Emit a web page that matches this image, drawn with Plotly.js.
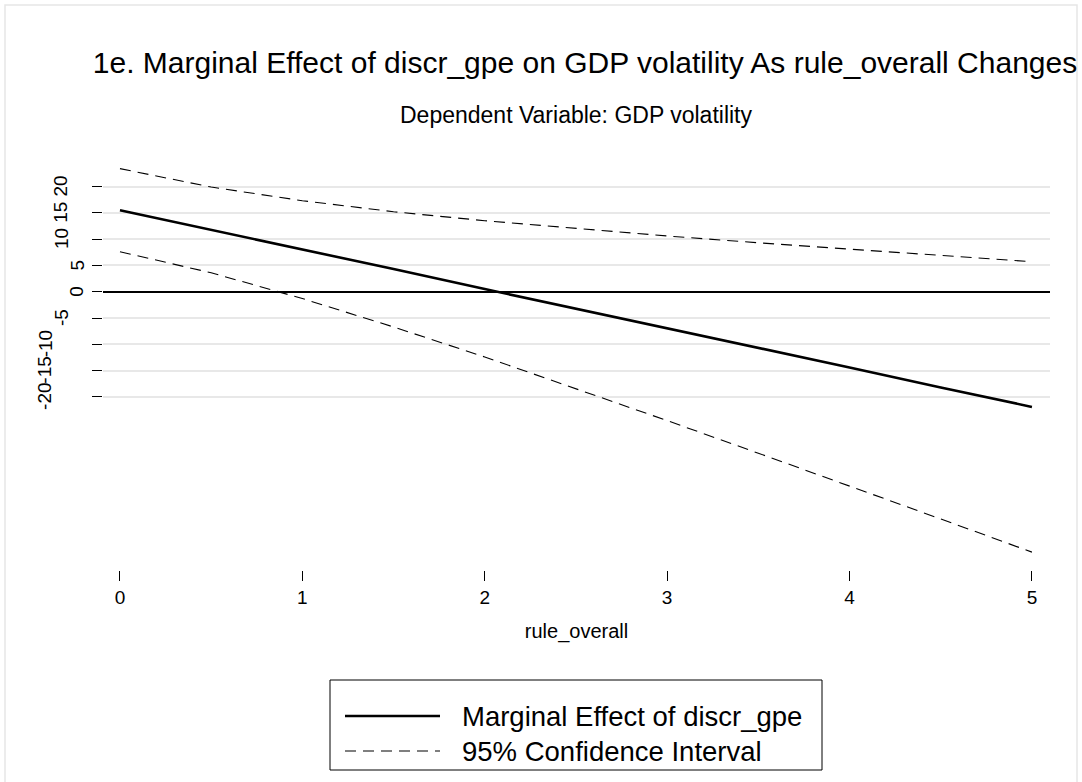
<!DOCTYPE html>
<html>
<head>
<meta charset="utf-8">
<script src="https://cdn.plot.ly/plotly-3.0.1.min.js"></script>
<style>
  html, body { margin: 0; padding: 0; background: #ffffff; }
  #chart { width: 1082px; height: 782px; }
</style>
</head>
<body>
<div id="chart"></div>
<script>
// Data
const ruleOverall = [0, 0.5, 1, 1.5, 2, 2.5, 3, 3.5, 4, 4.5, 5];
const marginalEffect = [15.5, 11.8, 8.0, 4.3, 0.5, -3.2, -6.9, -10.7, -14.4, -18.2, -21.9];
const upperCI = [23.4, 19.9, 17.3, 15.2, 13.5, 12.0, 10.6, 9.3, 8.1, 6.9, 5.7];
const lowerCI = [7.6, 3.6, -1.3, -6.7, -12.4, -18.4, -24.5, -30.7, -36.9, -43.2, -49.5];
const xTicks = [0, 1, 2, 3, 4, 5];
const yTicks = [-20, -15, -10, -5, 0, 5, 10, 15, 20];
const seriesNames = ['Marginal Effect of discr_gpe', '95% Confidence Interval'];

const FONT = '"Liberation Sans", Arial, Helvetica, sans-serif';

// plot-area geometry in pixels (used only to place layout items)
const PL = 103, PR = 1050, PT = 160, PB = 570;
const px2x = p => (p - PL) / (PR - PL);
const px2y = p => (PB - p) / (PB - PT);

const solidLine = { color: '#000000', width: 2.6 };
const dashLine = { color: '#000000', width: 1.1, dash: '11px,7px' };

const traces = [
  { x: ruleOverall, y: marginalEffect, type: 'scatter', mode: 'lines', name: seriesNames[0], line: solidLine },
  { x: ruleOverall, y: upperCI, type: 'scatter', mode: 'lines', name: seriesNames[1], line: dashLine },
  { x: ruleOverall, y: lowerCI, type: 'scatter', mode: 'lines', name: seriesNames[1], line: dashLine }
];

// y tick labels, drawn Stata-style (rotated, longer labels sit further left)
const yLabelAnnotations = yTicks.map(v => {
  const s = String(v);
  const cx = 77 - 16 * (s.length - 1);
  return {
    text: s, xref: 'paper', yref: 'y', x: px2x(cx), y: v,
    xanchor: 'center', yanchor: 'middle', textangle: -90, showarrow: false,
    font: { family: FONT, size: 19, color: '#000000' }
  };
});

// legend box (drawn with shapes + text)
const legendShapes = [
  { type: 'rect', xref: 'paper', yref: 'paper', x0: px2x(330), x1: px2x(822), y0: px2y(770), y1: px2y(680),
    line: { color: '#000000', width: 1 }, fillcolor: '#ffffff' },
  { type: 'line', xref: 'paper', yref: 'paper', x0: px2x(345), x1: px2x(440), y0: px2y(716), y1: px2y(716), line: solidLine },
  { type: 'line', xref: 'paper', yref: 'paper', x0: px2x(345), x1: px2x(440), y0: px2y(751), y1: px2y(751), line: dashLine }
];
const legendTexts = seriesNames.map((name, i) => ({
  text: name, xref: 'paper', yref: 'paper', x: px2x(460), y: px2y(i === 0 ? 716 : 751),
  xanchor: 'left', yanchor: 'middle', showarrow: false,
  font: { family: FONT, size: 27.5, color: '#000000' }
}));

const layout = {
  width: 1082, height: 782,
  showlegend: false,
  paper_bgcolor: '#ffffff', plot_bgcolor: '#ffffff',
  font: { family: FONT, color: '#000000' },
  margin: { l: PL, r: 1082 - PR, t: PT, b: 782 - PB, pad: 0 },
  title: {
    text: '1e. Marginal Effect of discr_gpe on GDP volatility As rule_overall Changes',
    font: { family: FONT, size: 30, color: '#000000' },
    xref: 'paper', x: px2x(585), xanchor: 'center',
    yref: 'container', y: 1 - 62 / 782, yanchor: 'middle'
  },
  xaxis: {
    range: [-0.093, 5.099],
    tickmode: 'array', tickvals: xTicks, ticktext: xTicks.map(String),
    ticks: 'outside', ticklen: 10, tickwidth: 1, tickcolor: '#000000',
    showgrid: false, zeroline: false, showline: false,
    tickfont: { family: FONT, size: 19, color: '#000000' },
    title: { text: 'rule_overall', font: { family: FONT, size: 20, color: '#000000' }, standoff: 17 }
  },
  yaxis: {
    range: [-52.9, 25.04],
    tickmode: 'array', tickvals: yTicks,
    showticklabels: false,
    ticks: 'outside', ticklen: 10, tickwidth: 1, tickcolor: '#000000',
    showgrid: true, gridcolor: '#e8e8e8', gridwidth: 2,
    zeroline: true, zerolinecolor: '#000000', zerolinewidth: 2.2,
    showline: false
  },
  annotations: [
    {
      text: 'Dependent Variable: GDP volatility',
      xref: 'paper', yref: 'paper', x: 0.5, y: px2y(115),
      xanchor: 'center', yanchor: 'middle', showarrow: false,
      font: { family: FONT, size: 23, color: '#000000' }
    }
  ].concat(yLabelAnnotations, legendTexts),
  shapes: [
    {
      type: 'rect', xref: 'paper', yref: 'paper', layer: 'below',
      x0: px2x(5), x1: px2x(1077), y0: px2y(800), y1: px2y(5),
      line: { color: '#e6e6e6', width: 1.5 }, fillcolor: 'rgba(0,0,0,0)'
    }
  ].concat(legendShapes)
};

Plotly.newPlot('chart', traces, layout, { displayModeBar: false, staticPlot: true });
</script>
</body>
</html>
